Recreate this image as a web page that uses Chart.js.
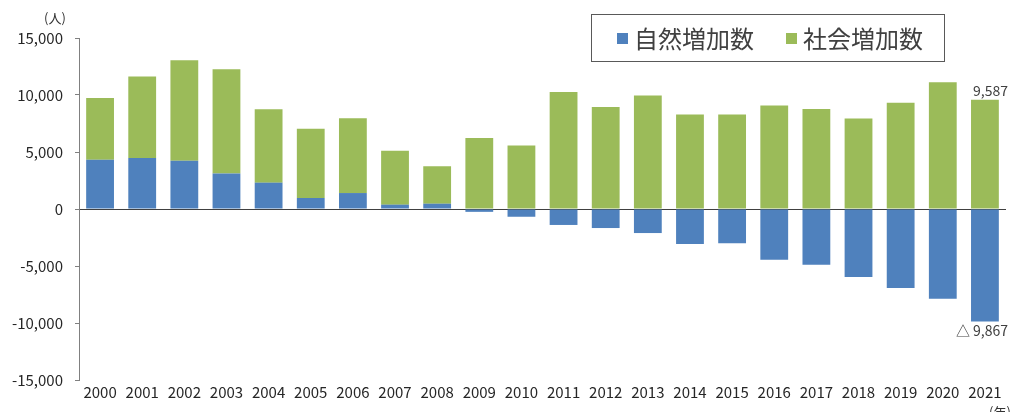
<!DOCTYPE html>
<html>
<head>
<meta charset="utf-8">
<script src="https://cdn.jsdelivr.net/npm/chart.js@4"></script>
<style>
  html, body { margin: 0; padding: 0; background: #fff; }
  #wrap { position: relative; width: 1011px; height: 412px; }
</style>
</head>
<body>
<div id="wrap"><canvas id="myChart" width="1011" height="412"></canvas></div>
<script>
const years = ['2000','2001','2002','2003','2004','2005','2006','2007','2008','2009','2010',
  '2011','2012','2013','2014','2015','2016','2017','2018','2019','2020','2021'];

// 自然増加数 (natural increase)
const naturalIncrease = [4330, 4475, 4240, 3125, 2310, 965, 1400, 380, 465, -250, -680,
  -1400, -1670, -2110, -3070, -3010, -4450, -4890, -5970, -6940, -7870, -9867];

// 社会増加数 (social increase)
const socialIncrease = [5415, 7140, 8810, 9135, 6435, 6085, 6555, 4740, 3275, 6235, 5560,
  10270, 8955, 9950, 8280, 8280, 9075, 8780, 7930, 9310, 11120, 9587];

const yTicks = [-15000, -10000, -5000, 0, 5000, 10000, 15000];

const FONT = '"Noto Sans CJK JP", "Noto Sans", sans-serif';
const BLUE = '#4F81BD';
const GREEN = '#9BBB59';

const fmt = (v) => Number(v).toLocaleString('en-US');

// legend box, unit labels and end-of-series value labels
const extras = {
  id: 'extras',
  afterDraw(chart) {
    const c = chart.ctx;
    const x = chart.scales.x;
    const y = chart.scales.y;
    c.save();

    // units
    c.fillStyle = '#333';
    c.font = '13px ' + FONT;
    c.textAlign = 'left';
    c.textBaseline = 'middle';
    c.fillText('(人)', 44, 18);
    c.fillText('(年)', 989, 412);

    // legend
    c.strokeStyle = '#595959';
    c.lineWidth = 1;
    c.strokeRect(591.5, 14.5, 353, 47);
    const items = chart.data.datasets;
    const starts = [617, 786];
    c.font = '24px ' + FONT;
    items.forEach((ds, i) => {
      c.fillStyle = ds.backgroundColor;
      c.fillRect(starts[i], 33, 11, 11);
      c.fillStyle = '#404040';
      c.fillText(ds.label, starts[i] + 17, 39);
    });

    // value labels for last year
    const last = years.length - 1;
    const top = y.getPixelForValue(naturalIncrease[last] > 0 ? naturalIncrease[last] + socialIncrease[last] : socialIncrease[last]);
    const bottom = y.getPixelForValue(Math.min(naturalIncrease[last], 0));
    c.font = '14px ' + FONT;
    c.fillStyle = '#404040';
    c.textAlign = 'right';
    c.textBaseline = 'bottom';
    c.fillText(fmt(socialIncrease[last]), 1008, top - 2);
    c.textBaseline = 'top';
    const neg = naturalIncrease[last] < 0 ? '△ ' + fmt(-naturalIncrease[last]) : fmt(naturalIncrease[last]);
    c.fillText(neg, 1008, bottom + 2);
    c.restore();
  }
};

const ctx = document.getElementById('myChart');

new Chart(ctx, {
  type: 'bar',
  data: {
    labels: years,
    datasets: [{
      label: '自然増加数',
      data: naturalIncrease,
      backgroundColor: BLUE,
      borderWidth: 0
    }, {
      label: '社会増加数',
      data: socialIncrease,
      backgroundColor: GREEN,
      borderWidth: 0
    }]
  },
  options: {
    responsive: false,
    animation: false,
    devicePixelRatio: 1,
    layout: { padding: { top: 38, right: 5, bottom: 0, left: 0 } },
    datasets: { bar: { categoryPercentage: 1, barPercentage: 0.66 } },
    plugins: {
      legend: { display: false },
      tooltip: { enabled: false }
    },
    scales: {
      x: {
        stacked: true,
        grid: { display: false, drawTicks: false },
        border: { display: false },
        ticks: { color: '#262626', font: { family: FONT, size: 15 }, padding: 3, maxRotation: 0, autoSkip: false },
        afterFit: (s) => { s.height = 32; }
      },
      y: {
        stacked: true,
        min: yTicks[0],
        max: yTicks[yTicks.length - 1],
        afterBuildTicks: (s) => { s.ticks = yTicks.map(v => ({ value: v })); },
        grid: {
          drawOnChartArea: true,
          color: (c) => c.tick && c.tick.value === 0 ? '#404040' : 'rgba(0,0,0,0)',
          lineWidth: 1,
          tickLength: 4,
          tickColor: '#808080'
        },
        border: { display: true, color: '#808080' },
        ticks: {
          color: '#262626',
          font: { family: FONT, size: 15 },
          padding: 12,
          callback: (v) => fmt(v)
        },
        afterFit: (s) => { s.width = 79; }
      }
    }
  },
  plugins: [extras]
});
</script>
</body>
</html>
